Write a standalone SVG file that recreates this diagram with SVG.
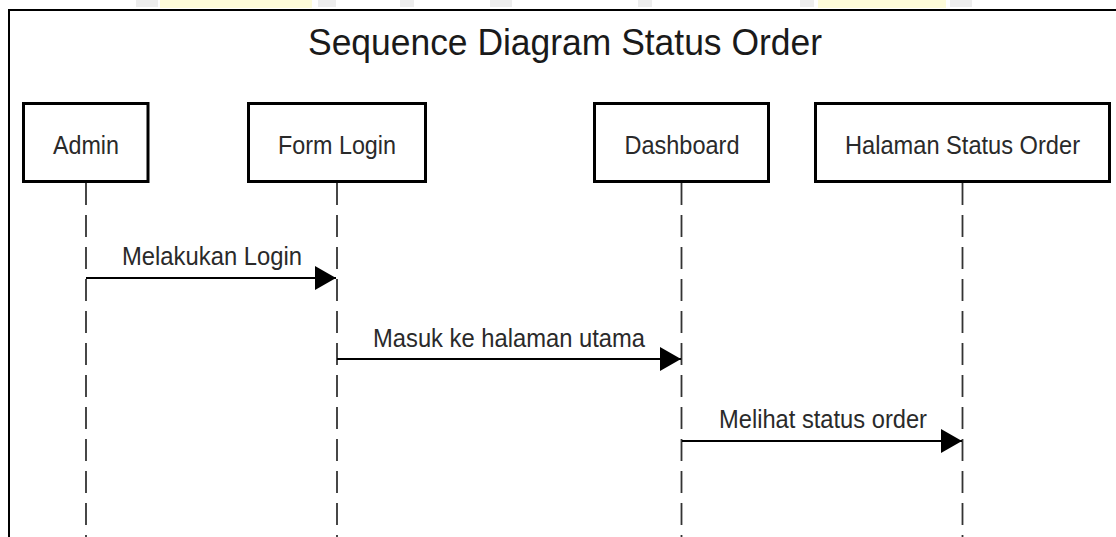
<svg xmlns="http://www.w3.org/2000/svg" width="1116" height="537" viewBox="0 0 1116 537">
<style>
  .frame { fill: none; stroke: #000; stroke-width: 2; }
  .box { fill: #fff; stroke: #000; stroke-width: 3; }
  .label { font-family: "Liberation Sans", Arial, sans-serif; font-size: 25px; fill: #2a2a2a; text-anchor: middle; }
  .title { font-family: "Liberation Sans", Arial, sans-serif; font-size: 37px; fill: #1a1a1a; text-anchor: middle; }
  .life { stroke: #333; stroke-width: 1.8; stroke-dasharray: 22 10; fill: none; }
  .msg { stroke: #000; stroke-width: 2; fill: none; }
  .wm-y { fill: #fdfbd9; }
  .wm-g { fill: #ededed; }
</style>
<defs>
  <marker id="arrow" viewBox="0 0 21 24" refX="21" refY="12" markerWidth="21" markerHeight="24" markerUnits="userSpaceOnUse" orient="auto">
    <path d="M0,0 L21,12 L0,24 Z" fill="#000"/>
  </marker>
</defs>
<rect width="1116" height="537" fill="#fff"/>
<g id="watermark">
  <rect class="wm-g" x="136" y="0" width="22" height="7"/>
  <rect class="wm-y" x="160" y="0" width="152" height="8"/>
  <rect class="wm-g" x="318" y="0" width="18" height="7"/>
  <rect class="wm-g" x="400" y="0" width="14" height="7"/>
  <rect class="wm-g" x="490" y="0" width="22" height="7"/>
  <rect class="wm-g" x="638" y="0" width="14" height="7"/>
  <rect class="wm-g" x="800" y="0" width="14" height="7"/>
  <rect class="wm-y" x="818" y="0" width="128" height="8"/>
  <rect class="wm-g" x="950" y="0" width="22" height="7"/>
</g>
<path class="frame" d="M9,537 V10 H1116"/>
<text id="title" class="title" x="565" y="55" textLength="514" lengthAdjust="spacingAndGlyphs">Sequence Diagram Status Order</text>
<g id="connectors">
  <line class="life" x1="86" y1="183" x2="86" y2="537"/>
  <line class="life" x1="337" y1="183" x2="337" y2="537"/>
  <line class="life" x1="681.5" y1="183" x2="681.5" y2="537"/>
  <line class="life" x1="962.5" y1="183" x2="962.5" y2="537"/>
  <g id="msg1">
    <line class="msg" x1="86" y1="278" x2="336" y2="278" marker-end="url(#arrow)"/>
    <text class="label" x="212" y="265" textLength="180" lengthAdjust="spacingAndGlyphs">Melakukan Login</text>
  </g>
  <g id="msg2">
    <line class="msg" x1="337" y1="359" x2="681" y2="359" marker-end="url(#arrow)"/>
    <text class="label" x="509" y="347" textLength="272" lengthAdjust="spacingAndGlyphs">Masuk ke halaman utama</text>
  </g>
  <g id="msg3">
    <line class="msg" x1="682" y1="441" x2="962" y2="441" marker-end="url(#arrow)"/>
    <text class="label" x="823" y="428" textLength="208" lengthAdjust="spacingAndGlyphs">Melihat status order</text>
  </g>
</g>
<g id="admin">
  <rect class="box" x="23.5" y="103.5" width="124.5" height="78"/>
  <text class="label" x="86" y="154" textLength="66" lengthAdjust="spacingAndGlyphs">Admin</text>
</g>
<g id="form-login">
  <rect class="box" x="248.5" y="103.5" width="177" height="78"/>
  <text class="label" x="337" y="154" textLength="118" lengthAdjust="spacingAndGlyphs">Form Login</text>
</g>
<g id="dashboard">
  <rect class="box" x="594.5" y="103.5" width="174" height="78"/>
  <text class="label" x="682" y="154" textLength="115" lengthAdjust="spacingAndGlyphs">Dashboard</text>
</g>
<g id="halaman-status-order">
  <rect class="box" x="815.5" y="103.5" width="294" height="78"/>
  <text class="label" x="962.5" y="154" textLength="235" lengthAdjust="spacingAndGlyphs">Halaman Status Order</text>
</g>
</svg>
